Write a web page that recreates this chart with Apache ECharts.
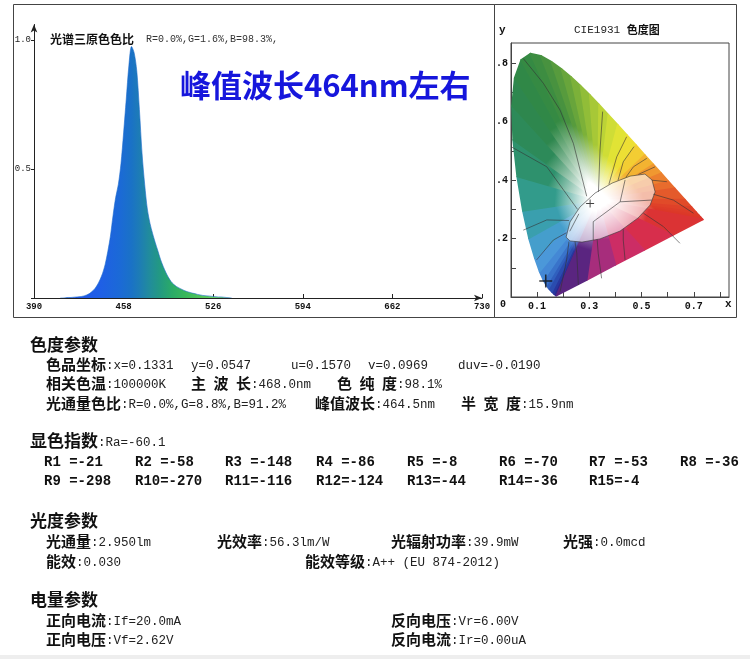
<!DOCTYPE html>
<html>
<head>
<meta charset="utf-8">
<title>光谱与色度参数</title>
<script src="https://cdn.jsdelivr.net/npm/echarts@6.0.0/dist/echarts.min.js"></script>
<style>
  html, body { margin: 0; padding: 0; background: #fff; }
  #main { width: 750px; height: 659px; }
</style>
</head>
<body>
<div id="main"></div>
<script>
// 光谱 (nm / 相对强度)
var wavelength = [410, 412, 414, 416, 418, 420, 422, 424, 426, 428, 430, 432, 434, 436, 438, 440,
  442, 444, 446, 448, 450, 452, 454, 456, 458, 460, 462, 464, 466, 468, 470, 472, 474, 476, 478, 480,
  482, 484, 486, 488, 490, 492, 494, 496, 498, 500, 502, 504, 506, 508, 510, 512, 514, 516, 518, 520,
  522, 524, 526, 528, 530, 532, 534, 536, 538, 540];
var intensity = [0, 0, 0.001, 0.002, 0.002, 0.003, 0.004, 0.005, 0.006, 0.008, 0.012, 0.017, 0.025, 0.035, 0.05, 0.07,
  0.095, 0.13, 0.18, 0.24, 0.32, 0.39, 0.44, 0.52, 0.64, 0.77, 0.9, 0.975, 0.95, 0.88, 0.73, 0.56, 0.44, 0.345, 0.29, 0.25,
  0.215, 0.183, 0.15, 0.123, 0.1, 0.08, 0.064, 0.053, 0.045, 0.039, 0.034, 0.029, 0.025, 0.022, 0.019, 0.017, 0.014, 0.012, 0.01, 0.009,
  0.008, 0.007, 0.006, 0.005, 0.004, 0.004, 0.003, 0.002, 0.001, 0];
var specTicks = [390, 458, 526, 594, 662, 730];
var specYLabels = ['0.5', '1.0'];

// CIE1931 光谱轨迹
var locusNm = [380, 420, 440, 450, 460, 465, 470, 475, 480, 485, 490, 495, 500, 505, 510, 515, 520, 525, 530, 535,
  540, 545, 550, 555, 560, 565, 570, 575, 580, 585, 590, 595, 600, 610, 620, 630, 640, 650, 660, 680, 700];
var locusX = [0.1741, 0.1714, 0.1644, 0.1566, 0.1440, 0.1355, 0.1241, 0.1096, 0.0913, 0.0687, 0.0454, 0.0235, 0.0082, 0.0039, 0.0139, 0.0389, 0.0743, 0.1142, 0.1547, 0.1929,
  0.2296, 0.2658, 0.3016, 0.3373, 0.3731, 0.4087, 0.4441, 0.4788, 0.5125, 0.5448, 0.5752, 0.6029, 0.6270, 0.6658, 0.6915, 0.7079, 0.7190, 0.7260, 0.7300, 0.7334, 0.7347];
var locusY = [0.0050, 0.0051, 0.0109, 0.0177, 0.0297, 0.0399, 0.0578, 0.0868, 0.1327, 0.2007, 0.2950, 0.4127, 0.5384, 0.6548, 0.7502, 0.8120, 0.8338, 0.8262, 0.8059, 0.7816,
  0.7543, 0.7243, 0.6923, 0.6589, 0.6245, 0.5896, 0.5547, 0.5202, 0.4866, 0.4544, 0.4242, 0.3965, 0.3725, 0.3340, 0.3083, 0.2920, 0.2809, 0.2740, 0.2700, 0.2666, 0.2653];
var purpleX = [0.62, 0.51, 0.40, 0.29];
var purpleY = [0.212, 0.161, 0.110, 0.058];
var whitePoint = [0.333, 0.333];
var measured = [0.1331, 0.0547];
var centerMark = [0.303, 0.32];
var cieXLabels = ['0.1', '0.3', '0.5', '0.7'];
var cieYLabels = ['.2', '.4', '.6', '.8'];

// 色区分界线
var ellipsePts = [[0.211, 0.205], [0.226, 0.257], [0.264, 0.308], [0.322, 0.356], [0.387, 0.390], [0.456, 0.414],
  [0.513, 0.421], [0.540, 0.401], [0.552, 0.360], [0.533, 0.315], [0.487, 0.271], [0.418, 0.226], [0.341, 0.199],
  [0.272, 0.188], [0.226, 0.192], [0.211, 0.205]];
var kellyLines = [
  [[0.047, 0.817], [0.124, 0.732], [0.188, 0.640], [0.239, 0.526], [0.29, 0.345]],
  [[0.0, 0.515], [0.137, 0.446], [0.255, 0.30]],
  [[0.351, 0.635], [0.341, 0.503], [0.335, 0.36]],
  [[0.443, 0.549], [0.405, 0.480], [0.375, 0.386]],
  [[0.471, 0.515], [0.430, 0.463], [0.41, 0.40]],
  [[0.520, 0.475], [0.469, 0.446], [0.44, 0.41]],
  [[0.552, 0.446], [0.488, 0.42]],
  [[0.597, 0.395], [0.54, 0.40]],
  [[0.699, 0.287], [0.622, 0.332], [0.545, 0.352]],
  [[0.647, 0.184], [0.584, 0.241], [0.507, 0.287]],
  [[0.437, 0.127], [0.430, 0.195], [0.43, 0.232]],
  [[0.347, 0.064], [0.334, 0.150], [0.33, 0.198]],
  [[0.258, 0.041], [0.252, 0.150], [0.245, 0.19]],
  [[0.188, 0.018], [0.213, 0.127], [0.222, 0.19]],
  [[0.098, 0.127], [0.162, 0.195], [0.212, 0.22]],
  [[0.047, 0.229], [0.137, 0.264], [0.222, 0.262]],
  [[0.437, 0.401], [0.418, 0.326], [0.315, 0.258], [0.315, 0.195]],
  [[0.418, 0.326], [0.539, 0.332]],
  [[0.225, 0.225], [0.26, 0.285]]
];

// 参数
var chromaItems = [['色品坐标', ':x=0.1331'], ['', 'y=0.0547'], ['', 'u=0.1570'], ['', 'v=0.0969'], ['', 'duv=-0.0190'],
  ['相关色温', ':100000K'], ['主\u2002波\u2002长', ':468.0nm'], ['色\u2002纯\u2002度', ':98.1%'],
  ['光通量色比', ':R=0.0%,G=8.8%,B=91.2%'], ['峰值波长', ':464.5nm'], ['半\u2002宽\u2002度', ':15.9nm']];
var raValue = '-60.1';
var rNames = ['R1 ', 'R2 ', 'R3 ', 'R4 ', 'R5 ', 'R6 ', 'R7 ', 'R8 ', 'R9 ', 'R10', 'R11', 'R12', 'R13', 'R14', 'R15'];
var rValues = [-21, -58, -148, -86, -8, -70, -53, -36, -298, -270, -116, -124, -44, -36, -4];
var photoItems = [['光通量', ':2.950lm'], ['光效率', ':56.3lm/W'], ['光辐射功率', ':39.9mW'], ['光强', ':0.0mcd'],
  ['能效', ':0.030'], ['能效等级', ':A++ (EU 874-2012)']];
var elecItems = [['正向电流', ':If=20.0mA'], ['反向电压', ':Vr=6.00V'], ['正向电压', ':Vf=2.62V'], ['反向电流', ':Ir=0.00uA']];

// 色品图边缘颜色 (样式)
var locusColors = ['#2a1f7a', '#2a2288', '#262f96', '#2840a6', '#2c58b8', '#3468c4', '#3e7ed0', '#4a92da', '#4c9ed8', '#3f9fc0',
  '#35a09c', '#2f967a', '#2d8c60', '#2e8852', '#2f874a', '#328945', '#388b42', '#428f40', '#4f963e', '#5fa03c',
  '#72ab3a', '#86b739', '#9cc338', '#b2ce37', '#c6d936', '#d9e236', '#e9e535', '#f2d934', '#f4c132', '#f2a531',
  '#ee8b2f', '#ea752e', '#e6632c', '#e2512a', '#e04528', '#de3e28', '#dd3a28', '#dc3828', '#dc3728', '#dc3628', '#dc3628'];
var purpleColors = ['#da3040', '#d42c58', '#c42e72', '#8a2c86'];

var boundary = [];
var fanColors = [];
for (var i = 0; i < locusX.length; i++) {
  boundary.push([locusX[i], locusY[i]]);
  fanColors.push(locusColors[i]);
}
for (var j = 0; j < purpleX.length; j++) {
  boundary.push([purpleX[j], purpleY[j]]);
  fanColors.push(purpleColors[j]);
}

function mix(a, b) {
  var pa = parseInt(a.slice(1), 16), pb = parseInt(b.slice(1), 16);
  var r = (((pa >> 16) & 255) + ((pb >> 16) & 255)) >> 1;
  var g = (((pa >> 8) & 255) + ((pb >> 8) & 255)) >> 1;
  var bl = ((pa & 255) + (pb & 255)) >> 1;
  return 'rgb(' + r + ',' + g + ',' + bl + ')';
}

function renderFan(params, api) {
  var n = boundary.length;
  var i = params.dataIndex;
  var a = api.coord(boundary[i]);
  var b = api.coord(boundary[(i + 1) % n]);
  var w = api.coord(whitePoint);
  var c = mix(fanColors[i], fanColors[(i + 1) % n]);
  var grad = {
    type: 'linear', global: true,
    x: w[0], y: w[1], x2: (a[0] + b[0]) / 2, y2: (a[1] + b[1]) / 2,
    colorStops: [
      { offset: 0, color: '#ffffff' },
      { offset: 0.12, color: '#ffffff' },
      { offset: 0.55, color: c },
      { offset: 1, color: c }
    ]
  };
  return {
    type: 'polygon',
    shape: { points: [w, a, b] },
    style: { fill: grad, stroke: grad, lineWidth: 1.6, lineJoin: 'round' }
  };
}

function renderEllipse(params, api) {
  var pts = ellipsePts.map(function (p) { return api.coord(p); });
  return {
    type: 'polygon',
    shape: { points: pts },
    style: { fill: 'rgba(255,255,255,0.6)' }
  };
}

var specData = [];
for (var k = 0; k < wavelength.length; k++) {
  specData.push([wavelength[k] - specTicks[0], intensity[k]]);
}

var CJK = '"Noto Sans CJK SC", sans-serif';
var MONO = '"Liberation Mono", "DejaVu Sans Mono", monospace';
var rich = {
  h: { fontFamily: CJK, fontWeight: 'bold', fontSize: 17, fill: '#111' },
  b: { fontFamily: CJK, fontWeight: 'bold', fontSize: 15, fill: '#111' },
  v: { fontFamily: MONO, fontSize: 12.5, fill: '#222', padding: [4, 0, 0, 0] },
  r: { fontFamily: MONO, fontWeight: 'bold', fontSize: 14, fill: '#111' }
};

function txt(x, y, s) {
  return {
    type: 'text', x: x, y: y, z: 100,
    style: { text: s, rich: rich, verticalAlign: 'middle', textAlign: 'left' }
  };
}
function field(x, y, item) {
  return txt(x, y, (item[0] ? '{b|' + item[0] + '}' : '') + '{v|' + item[1] + '}');
}

var graphics = [
  { type: 'rect', shape: { x: 13.5, y: 4.5, width: 481, height: 313 }, style: { fill: 'transparent', stroke: '#444', lineWidth: 1 } },
  { type: 'rect', shape: { x: 494.5, y: 4.5, width: 242, height: 313 }, style: { fill: 'transparent', stroke: '#444', lineWidth: 1 } },
  { type: 'rect', shape: { x: 0, y: 655, width: 750, height: 4 }, style: { fill: '#eeeeee' } },
  { type: 'text', x: 50, y: 39, style: { text: '光谱三原色色比', font: 'bold 12px ' + CJK, fill: '#111', verticalAlign: 'middle' } },
  { type: 'text', x: 146, y: 39, style: { text: 'R=0.0%,G=1.6%,B=98.3%,', font: '10px ' + MONO, fill: '#333', verticalAlign: 'middle' } },
  { type: 'text', x: 180, y: 85, style: { text: '峰值波长464nm左右', font: 'bold 31px ' + CJK, fill: '#1616dc', verticalAlign: 'middle' } },
  { type: 'text', x: 574, y: 30, style: { text: '{m|CIE1931 }{c|色度图}', verticalAlign: 'middle',
    rich: { m: { fontFamily: MONO, fontSize: 11, fill: '#222' }, c: { fontFamily: CJK, fontWeight: 'bold', fontSize: 11, fill: '#111' } } } },
  { type: 'text', x: 499, y: 30, style: { text: 'y', font: 'bold 11px ' + MONO, fill: '#111', verticalAlign: 'middle' } },
  { type: 'text', x: 725, y: 304, style: { text: 'x', font: 'bold 11px ' + MONO, fill: '#111', verticalAlign: 'middle' } },
  { type: 'text', x: 500, y: 304, style: { text: '0', font: 'bold 10px ' + MONO, fill: '#111', verticalAlign: 'middle' } }
];

// 色度参数
graphics.push(txt(30, 345, '{h|色度参数}'));
var chromaPos = [[46, 364], [191, 364], [291, 364], [368, 364], [458, 364],
  [46, 383], [191, 383], [337, 383], [46, 403], [315, 403], [461, 403]];
chromaItems.forEach(function (it, i) { graphics.push(field(chromaPos[i][0], chromaPos[i][1], it)); });

// 显色指数
graphics.push(txt(30, 441, '{h|显色指数}{v|:Ra=' + raValue + '}'));
var rCols = [44, 135, 225, 316, 407, 499, 589, 680];
rNames.forEach(function (nm, i) {
  graphics.push(txt(rCols[i % 8], i < 8 ? 462 : 481, '{r|' + nm + '=' + rValues[i] + '}'));
});

// 光度参数
graphics.push(txt(30, 521, '{h|光度参数}'));
var photoPos = [[46, 541], [217, 541], [391, 541], [563, 541], [46, 561], [305, 561]];
photoItems.forEach(function (it, i) { graphics.push(field(photoPos[i][0], photoPos[i][1], it)); });

// 电量参数
graphics.push(txt(30, 600, '{h|电量参数}'));
var elecPos = [[46, 620], [391, 620], [46, 639], [391, 639]];
elecItems.forEach(function (it, i) { graphics.push(field(elecPos[i][0], elecPos[i][1], it)); });

var chart = echarts.init(document.getElementById('main'));
var option = {
  animation: false,
  backgroundColor: '#ffffff',
  grid: [
    { left: 34, right: 268, top: 24.5, bottom: 361 },
    { left: 511, right: 21, top: 43, bottom: 362, show: true, borderColor: '#444', borderWidth: 1 }
  ],
  xAxis: [{
    gridIndex: 0, type: 'value', min: 0, max: 340, interval: 68,
    axisLine: { show: true, symbol: ['none', 'arrow'], symbolSize: [5, 8], lineStyle: { color: '#222' } },
    axisTick: { show: true, inside: true, length: 4, lineStyle: { color: '#222' } },
    axisLabel: {
      margin: 4, fontFamily: MONO, fontWeight: 'bold', fontSize: 9, color: '#111',
      formatter: function (v) { return String(specTicks[Math.round(v / 68)]); }
    },
    splitLine: { show: false }
  }, {
    gridIndex: 1, type: 'value', min: 0, max: 0.835, interval: 0.1,
    axisLine: { show: true, lineStyle: { color: '#444' } },
    axisTick: { show: true, inside: true, length: 5, lineStyle: { color: '#444' } },
    axisLabel: {
      margin: 4, fontFamily: MONO, fontWeight: 'bold', fontSize: 10, color: '#111', showMaxLabel: false,
      formatter: function (v) {
        var t = Math.round(v * 10);
        return (t % 2 === 1 && t < 8) ? cieXLabels[(t - 1) / 2] : '';
      }
    },
    splitLine: { show: false }
  }],
  yAxis: [{
    gridIndex: 0, type: 'value', min: 0, max: 1.06, interval: 0.5,
    axisLine: { show: true, symbol: ['none', 'arrow'], symbolSize: [5, 8], lineStyle: { color: '#222' } },
    axisTick: { show: true, length: 3, lineStyle: { color: '#222' } },
    axisLabel: {
      margin: 3, fontFamily: MONO, fontSize: 9, color: '#222', showMaxLabel: false,
      formatter: function (v) {
        var t = Math.round(v * 2);
        return (t >= 1 && t <= 2 && Math.abs(v * 2 - t) < 1e-6) ? specYLabels[t - 1] : '';
      }
    },
    splitLine: { show: false }
  }, {
    gridIndex: 1, type: 'value', min: 0, max: 0.87, interval: 0.1,
    axisLine: { show: true, lineStyle: { color: '#444' } },
    axisTick: { show: true, inside: true, length: 5, lineStyle: { color: '#444' } },
    axisLabel: {
      margin: 3, fontFamily: MONO, fontWeight: 'bold', fontSize: 10, color: '#111', showMaxLabel: false,
      formatter: function (v) {
        var t = Math.round(v * 10);
        return (t % 2 === 0 && t > 0 && t <= 8) ? cieYLabels[t / 2 - 1] : '';
      }
    },
    splitLine: { show: false }
  }],
  series: [{
    name: '光谱', type: 'line', xAxisIndex: 0, yAxisIndex: 0,
    data: specData, showSymbol: false, smooth: 0.3, silent: true,
    lineStyle: { width: 0.6, color: '#1d6ccc' },
    areaStyle: {
      opacity: 1,
      color: {
        type: 'linear', x: 0, y: 0, x2: 1, y2: 0,
        colorStops: [
          { offset: 0, color: '#2050ee' },
          { offset: 0.23, color: '#1f5fe6' },
          { offset: 0.35, color: '#1b6ad6' },
          { offset: 0.415, color: '#1a72c6' },
          { offset: 0.46, color: '#1d7cb6' },
          { offset: 0.52, color: '#218c9c' },
          { offset: 0.585, color: '#239a80' },
          { offset: 0.65, color: '#2aaa68' },
          { offset: 0.73, color: '#38b85a' },
          { offset: 0.85, color: '#58ca5c' },
          { offset: 1, color: '#86de84' }
        ]
      }
    }
  }, {
    name: '色品', type: 'custom', xAxisIndex: 1, yAxisIndex: 1, z: 1, silent: true,
    renderItem: renderFan, data: boundary
  }, {
    name: '白区', type: 'custom', xAxisIndex: 1, yAxisIndex: 1, z: 2, silent: true,
    renderItem: renderEllipse, data: [whitePoint]
  }, {
    name: '分区', type: 'lines', coordinateSystem: 'cartesian2d', xAxisIndex: 1, yAxisIndex: 1,
    polyline: true, z: 3, silent: true,
    lineStyle: { color: '#333', width: 0.7, opacity: 0.85 },
    data: kellyLines.concat([ellipsePts]).map(function (l) { return { coords: l }; })
  }, {
    name: '坐标点', type: 'scatter', xAxisIndex: 1, yAxisIndex: 1, z: 4, silent: true,
    symbol: 'path://M4.4,0h1.2v4.4h4.4v1.2h-4.4v4.4h-1.2v-4.4h-4.4v-1.2h4.4z',
    symbolSize: function (v, p) { return p.dataIndex === 0 ? 13 : 8; },
    itemStyle: { color: '#111' },
    data: [measured, centerMark]
  }],
  graphic: graphics
};
chart.setOption(option);
</script>
</body>
</html>
